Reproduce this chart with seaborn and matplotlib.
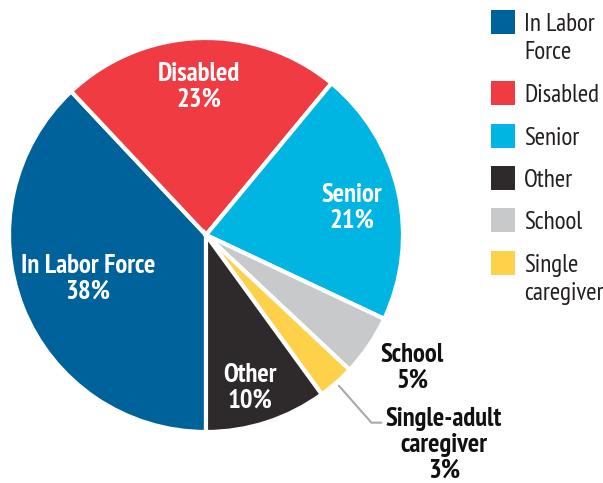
import numpy as np
import matplotlib
matplotlib.use("Agg")
import matplotlib.pyplot as plt
from matplotlib.patches import Rectangle
import seaborn as sns

# Shares of the population by status (percent)
categories = ["In Labor Force", "Disabled", "Senior", "School", "Single-adult caregiver", "Other"]
shares = [38, 23, 21, 5, 3, 10]
colors = ["#00629B", "#EF3B41", "#00B5E2", "#C8C9CB", "#FFD04A", "#2E2A2B"]

legend_labels = ["In Labor\nForce", "Disabled", "Senior", "Other", "School", "Single\ncaregiver"]
legend_keys = ["In Labor Force", "Disabled", "Senior", "Other", "School", "Single-adult caregiver"]

sns.set_theme(style="white")
FONT = ["PT Sans Narrow", "DejaVu Sans"]
plt.rcParams["font.family"] = FONT

W, H = 603, 483
fig = plt.figure(figsize=(W / 100, H / 100), dpi=100)
fig.patch.set_facecolor("white")

# pie axes: centre (206, 235) px, radius 197 px
cx, cy, R = 206, 235, 197
ax = fig.add_axes([(cx - R) / W, (H - cy - R) / H, 2 * R / W, 2 * R / H])
wedges, _ = ax.pie(
    shares, colors=colors, startangle=-90, counterclock=False,
    wedgeprops=dict(edgecolor="white", linewidth=3), radius=1.0,
)
ax.set_xlim(-1, 1)
ax.set_ylim(-1, 1)
ax.axis("off")

# label placement: radial distance and angular nudge (degrees) per slice
label_dist = {"In Labor Force": 0.639, "Disabled": 0.752, "Senior": 0.754,
              "School": 1.245, "Single-adult caregiver": 1.611, "Other": 0.808}
label_shift = {"In Labor Force": -1.2, "Disabled": 1.1, "Senior": -2.1,
               "School": 1.35, "Single-adult caregiver": 7.2, "Other": -1.95}
label_text = {"In Labor Force": "In Labor Force", "Disabled": "Disabled",
              "Senior": "Senior", "School": "School",
              "Single-adult caregiver": "Single-adult\ncaregiver", "Other": "Other"}

for w, cat, val in zip(wedges, categories, shares):
    mid_deg = (w.theta1 + w.theta2) / 2
    ang = np.deg2rad(mid_deg + label_shift[cat])
    d = label_dist[cat]
    inside = d < 1
    ax.text(d * np.cos(ang), d * np.sin(ang), f"{label_text[cat]}\n{val}%",
            ha="center", va="center", fontsize=19.3, fontweight="bold",
            color="white" if inside else "#111111", linespacing=1.08,
            family=FONT, clip_on=False)
    if cat == "Single-adult caregiver":
        m = np.deg2rad(mid_deg)
        p0 = (1.02 * np.cos(m), 1.02 * np.sin(m))
        p1 = (1.27 * np.cos(m), 1.27 * np.sin(m))
        p2 = (p1[0] + 0.05, p1[1])
        ax.plot([p0[0], p1[0], p2[0]], [p0[1], p1[1], p2[1]], color="#A7A9AC",
                lw=1.5, clip_on=False, solid_joinstyle="miter")

# legend drawn in pixel coordinates
lax = fig.add_axes([0, 0, 1, 1], facecolor="none")
lax.set_xlim(0, W)
lax.set_ylim(H, 0)
lax.axis("off")
row_top = [10, 81, 124, 166, 208, 251]
for top, key, lab in zip(row_top, legend_keys, legend_labels):
    col = colors[categories.index(key)]
    lax.add_patch(Rectangle((491, top), 24, 24, facecolor=col, edgecolor="none"))
    for i, line in enumerate(lab.split("\n")):
        lax.text(524, top + 21 + 28 * i, line, ha="left", va="baseline", fontsize=18,
                 color="#231F20", family=FONT)

fig.savefig("out.png", dpi=100, facecolor="white")
